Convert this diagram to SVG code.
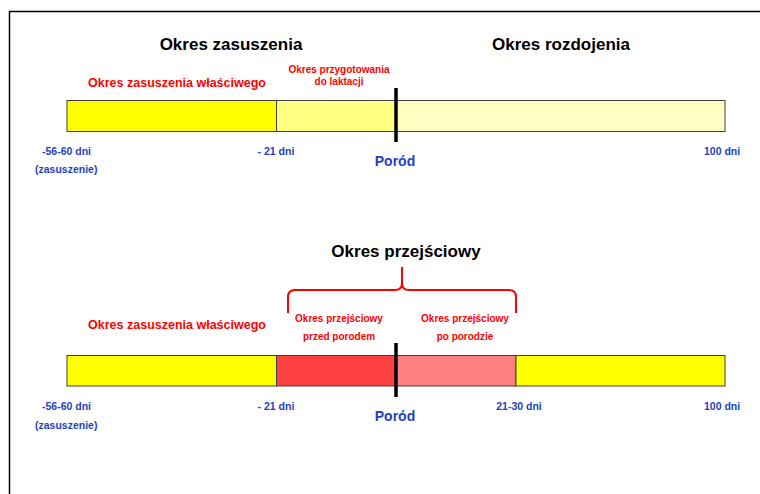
<svg xmlns="http://www.w3.org/2000/svg" width="760" height="494" viewBox="0 0 760 494">
<style>
text{font-family:"Liberation Sans",Arial,sans-serif;font-weight:bold}
.title{font-size:17px;fill:#000;text-anchor:middle}
.red{fill:#ff0000;text-anchor:middle}
.big{font-size:12.5px}
.small{font-size:10px}
.blue{fill:#1f3fc4;font-size:10.5px}
.por{fill:#1f3fc4;font-size:14px;text-anchor:middle}
.seg{stroke:#404040;stroke-width:1}
.birth{stroke:#000;stroke-width:3.5}
</style>
<rect width="760" height="494" fill="#fff"/>
<path d="M9.5,494 V11.5 H760" fill="none" stroke="#000" stroke-width="1.5"/>

<g id="top-titles">
<text class="title" x="231" y="50">Okres zasuszenia</text>
<text class="title" x="561" y="50">Okres rozdojenia</text>
</g>

<g id="top-labels">
<text class="red big" x="177" y="87">Okres zasuszenia właściwego</text>
<text class="red small" x="339" y="73">Okres przygotowania</text>
<text class="red small" x="339" y="85">do laktacji</text>
</g>

<g id="top-bar">
<rect class="seg" x="67" y="100.5" width="209.5" height="31" fill="#ffff00"/>
<rect class="seg" x="276.5" y="100.5" width="120" height="31" fill="#ffff80"/>
<rect class="seg" x="396.5" y="100.5" width="328.5" height="31" fill="#ffffc4"/>
<line class="birth" x1="396" y1="88" x2="396" y2="142"/>
</g>

<g id="top-axis">
<text class="blue" x="42" y="155">-56-60 dni</text>
<text class="blue" x="35" y="173">(zasuszenie)</text>
<text class="blue" x="276" y="155" text-anchor="middle">- 21 dni</text>
<text class="por" x="395" y="166">Poród</text>
<text class="blue" x="704" y="155">100 dni</text>
</g>

<g id="bottom-title">
<text class="title" x="406" y="257">Okres przejściowy</text>
</g>

<g id="connectors">
<path d="M288,313 V297 Q288,290 295,290 H395 Q402,290 402,283 V267 M402,283 Q402,290 409,290 H509 Q516,290 516,297 V313" fill="none" stroke="#ff0000" stroke-width="2"/>
</g>

<g id="bottom-labels">
<text class="red big" x="177" y="329">Okres zasuszenia właściwego</text>
<text class="red small" x="339" y="322">Okres przejściowy</text>
<text class="red small" x="339" y="340">przed porodem</text>
<text class="red small" x="465" y="322">Okres przejściowy</text>
<text class="red small" x="465" y="340">po porodzie</text>
</g>

<g id="bottom-bar">
<rect class="seg" x="67" y="355.5" width="209.5" height="30.5" fill="#ffff00"/>
<rect class="seg" x="276.5" y="355.5" width="120" height="30.5" fill="#ff4040"/>
<rect class="seg" x="396.5" y="355.5" width="119.5" height="30.5" fill="#ff8080"/>
<rect class="seg" x="516" y="355.5" width="209" height="30.5" fill="#ffff00"/>
<line class="birth" x1="396" y1="343" x2="396" y2="397"/>
</g>

<g id="bottom-axis">
<text class="blue" x="42" y="410">-56-60 dni</text>
<text class="blue" x="35" y="429">(zasuszenie)</text>
<text class="blue" x="276" y="410" text-anchor="middle">- 21 dni</text>
<text class="por" x="395" y="421">Poród</text>
<text class="blue" x="519" y="410" text-anchor="middle">21-30 dni</text>
<text class="blue" x="704" y="410">100 dni</text>
</g>
</svg>
